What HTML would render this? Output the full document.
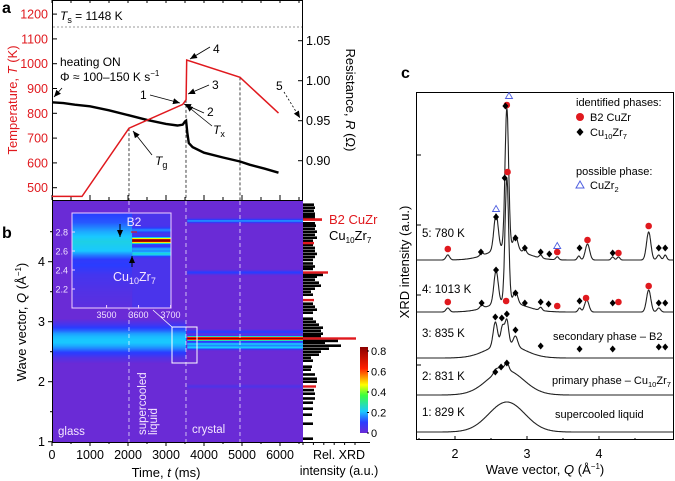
<!DOCTYPE html>
<html><head><meta charset="utf-8"><style>
html,body{margin:0;padding:0;background:#fff;}
svg{display:block;font-family:"Liberation Sans",sans-serif;}
</style></head><body>
<svg id="fig" width="675" height="481" viewBox="0 0 675 481" xmlns="http://www.w3.org/2000/svg">
<defs>
<marker id="ah" markerWidth="8" markerHeight="8" refX="7" refY="4" orient="auto" markerUnits="userSpaceOnUse"><path d="M0,1 L7,4 L0,7 z" fill="#000"/></marker>
<linearGradient id="cbar" x1="0" y1="1" x2="0" y2="0">
<stop offset="0" stop-color="#6a2bd6"/><stop offset="0.125" stop-color="#2a3cff"/><stop offset="0.25" stop-color="#19c8ff"/><stop offset="0.44" stop-color="#3cff3c"/><stop offset="0.56" stop-color="#ffff00"/><stop offset="0.75" stop-color="#ff2000"/><stop offset="1" stop-color="#8b0000"/>
</linearGradient>
</defs>
<g id="pa"></g>
<g id="pb"></g>
<g id="pc"></g>
</svg>
<script>
// ---------- Panel a data ----------
const tempT=[0,790,2026,3440,3530,3545,4947,5960];
const tempK=[465,465,740,836,855,1015,945,801];
const resT=[0,300,600,1000,1500,2000,2500,3000,3300,3440,3500,3530,3560,3600,3700,4000,4500,4947,5200,5600,5960];
const resR=[0.973,0.972,0.970,0.968,0.963,0.957,0.951,0.946,0.944,0.945,0.949,0.950,0.935,0.922,0.917,0.910,0.904,0.899,0.895,0.890,0.885];
const aTempTicks=[500,600,700,800,900,1000,1100,1200];
const aResTicks=["0.90","0.95","1.00","1.05"];
const dashTimes=[2026,3526,4947];
// ---------- Panel b data ----------
const timeTicks=[0,1000,2000,3000,4000,5000,6000];
const qTicks=[1,2,3,4];
const glassQ=[2.3,2.4,2.45,2.5,2.55,2.6,2.65,2.7,2.75,2.8,2.85,2.9,2.95,3.05];
const glassI=[0.0,0.04,0.08,0.11,0.15,0.18,0.2,0.2,0.19,0.17,0.13,0.1,0.06,0.0];
const crystQ=[1.92,2.57,2.63,2.72,2.83,3.82,4.68];
const crystI=[0.04,0.2,0.19,0.8,0.1,0.1,0.16];
const insetPreQ=[2.0,2.2,2.35,2.45,2.5,2.55,2.6,2.7,2.8,2.9,3.0];
const insetPreI=[0.02,0.04,0.06,0.1,0.09,0.14,0.2,0.22,0.18,0.12,0.1];
const insetPostQ=[2.57,2.62,2.71,2.82];
const insetPostI=[0.18,0.12,0.8,0.1];
const histQ=[1.05,1.3,1.45,1.55,1.65,1.72,1.8,1.86,2.0,2.05,2.12,2.2,2.25,2.35,2.4,2.45,2.5,2.55,2.6,2.65,2.68,2.76,2.8,2.85,2.9,2.95,3.0,3.05,3.15,3.2,3.25,3.3,3.45,3.5,3.55,3.6,3.65,3.7,3.75,3.78,3.88,3.92,3.97,4.03,4.08,4.13,4.18,4.23,4.28,4.35,4.4,4.45,4.5,4.55,4.6,4.64,4.72,4.76,4.8,4.85,4.9,4.95];
const histI=[10,10,9,10,10,12,12,11,14,14,12,8,9,10,8,16,18,26,38,22,35,18,20,18,20,16,13,10,10,14,12,10,10,8,12,18,16,12,14,20,10,12,10,10,12,14,12,12,10,10,14,12,14,12,13,12,12,12,12,11,12,11];
const histRedQ=[1.92,2.72,3.36,3.82,4.31,4.7];
const histRedI=[13,53,11,25,11,19];
const cbarTicks=["0","0.2","0.4","0.6","0.8"];
// ---------- Panel c data ----------
const cTicks=[2,3,4];
const cBase=[432,395,358,312,260];
const cLabels=["1: 829 K","2: 831 K","3: 835 K","4: 1013 K","5: 780 K"];
const c1Q=[2.72],c1H=[30],c1W=[0.25];
const c2Q=[2.7,2.57,2.64,2.72],c2H=[25,4,4,8],c2W=[0.25,0.03,0.03,0.025];
const c3Q=[2.7,2.56,2.66,2.72,2.84],c3H=[14,24,18,24,10],c3W=[0.25,0.03,0.025,0.025,0.03];
const c4Q=[2.72,1.9,2.37,2.57,2.72,2.84,3.19,3.73,3.83,4.69,4.83],c4H=[10,4,3,33,124,12,3,4,12,22,4],c4W=[0.25,0.025,0.025,0.03,0.025,0.03,0.02,0.02,0.03,0.03,0.025];
const c5Q=[2.72,1.9,2.37,2.57,2.72,2.84,2.97,3.19,3.42,3.72,3.84,4.19,4.27,4.69,4.83,4.92],c5H=[12,5,3,36,140,14,4,3,3,4,16,3,3,28,5,5],c5W=[0.25,0.025,0.02,0.03,0.025,0.03,0.02,0.02,0.02,0.02,0.03,0.02,0.02,0.03,0.025,0.02];
const m5RedQ=[1.9,2.72,3.42,3.84,4.27,4.69],m5RedH=[11,155,8,20,7,34];
const m5DiaQ=[2.36,2.57,2.7,2.84,2.97,3.19,3.31,3.73,4.19,4.83,4.92],m5DiaH=[8,43,154,22,12,8,6,12,7,12,12];
const m5TriQ=[2.57,2.75,3.42],m5TriH=[51,164,14];
const m4RedQ=[1.9,2.71,2.73,3.42,3.82,4.27,4.69],m4RedH=[10,11,140,6,14,10,26];
const m4DiaQ=[2.37,2.57,2.69,2.84,2.97,3.19,3.3,3.73,4.19,4.83,4.92],m4DiaH=[9,42,134,19,9,10,8,11,9,9,9];
const m3DiaQ=[2.56,2.65,2.72,2.84,3.19,3.73,4.19,4.83,4.92],m3DiaH=[41,40,44,28,12,9,9,11,11];
const m2DiaQ=[2.56,2.64,2.72],m2DiaH=[23,28,32];

const NS="http://www.w3.org/2000/svg";
function mk(parent,tag,attrs,text){const e=document.createElementNS(NS,tag);for(const k in attrs)e.setAttribute(k,attrs[k]);if(text!==undefined)e.textContent=text;parent.appendChild(e);return e;}
function interp(xs,ys,x){if(x<=xs[0])return ys[0];if(x>=xs[xs.length-1])return ys[ys.length-1];for(let i=1;i<xs.length;i++){if(x<=xs[i]){const f=(x-xs[i-1])/(xs[i]-xs[i-1]);return ys[i-1]+f*(ys[i]-ys[i-1]);}}}
const cmS=[0,0.1,0.2,0.35,0.45,0.6,0.8];
const cmC=[[106,43,214],[42,60,255],[25,200,255],[60,255,60],[255,255,0],[255,32,0],[139,0,0]];
function cmap(v){v=Math.max(0,Math.min(0.8,v));for(let i=1;i<cmS.length;i++){if(v<=cmS[i]){const f=(v-cmS[i-1])/(cmS[i]-cmS[i-1]);const c=cmC[i-1].map((a,j)=>Math.round(a+f*(cmC[i][j]-a)));return `rgb(${c[0]},${c[1]},${c[2]})`;}}return "rgb(139,0,0)";}

const xT=t=>52+t*0.038;
const yTemp=T=>187.7-(T-500)*0.248;
const yRes=R=>40.7+(1.05-R)*800;
const yQ=q=>441.7-(q-1)*60;
const inX=t=>72+(t-3392)*0.32;
const inY=q=>232-(q-2.8)*95;
const cX=q=>455+(q-2)*72;

// ===== Panel a =====
const pa=document.getElementById('pa');
let e;
e=mk(pa,'rect',{x:52.5,y:0.5,width:250,height:200,fill:'#fff',stroke:'#000','stroke-width':1});

e=mk(pa,'text',{x:2,y:13,'font-size':16,'font-weight':'bold'},'a');

e=mk(pa,'line',{x1:53,x2:302,y1:yTemp(1148),y2:yTemp(1148),stroke:'#999','stroke-dasharray':'2,2'});

for(const T of aTempTicks){const y=yTemp(T);
 e=mk(pa,'line',{x1:53,x2:57,y1:y,y2:y,stroke:'#000'});
 e=mk(pa,'text',{x:48,y:y+4.5,'font-size':12.5,fill:'#e0191e','text-anchor':'end'},String(T));
 }
for(const r of aResTicks){const y=yRes(+r);
 e=mk(pa,'line',{x1:298,x2:302,y1:y,y2:y,stroke:'#000'});
 e=mk(pa,'text',{x:306,y:y+4.5,'font-size':12.5,fill:'#000'},r);
 }
for(let t=0;t<=6500;t+=500){const x=xT(t);
 e=mk(pa,'line',{x1:x,x2:x,y1:200,y2:t%1000?197:195,stroke:'#000'});
 e=mk(pa,'line',{x1:x,x2:x,y1:0,y2:3,stroke:'#000'});}
e=mk(pa,'text',{transform:'translate(17,100) rotate(-90)','font-size':13,fill:'#e0191e','text-anchor':'middle'});
e.innerHTML='Temperature, <tspan font-style="italic">T</tspan> (K)';

e=mk(pa,'text',{transform:'translate(346,100) rotate(90)','font-size':13,fill:'#000','text-anchor':'middle'});
e.innerHTML='Resistance, <tspan font-style="italic">R</tspan> (Ω)';

for(const t of dashTimes){const x=xT(t);
 e=mk(pa,'line',{x1:x,x2:x,y1:yTemp(interp(tempT,tempK,t)),y2:200,stroke:'#444','stroke-dasharray':'3,2'});
 }
let d='';
for(let i=0;i<resT.length;i++){d+=(i?'L':'M')+xT(resT[i]).toFixed(1)+','+yRes(resR[i]).toFixed(1);}
e=mk(pa,'path',{d:d,fill:'none',stroke:'#000','stroke-width':2.4});

d='';
for(let i=0;i<tempT.length;i++){d+=(i?'L':'M')+xT(tempT[i]).toFixed(1)+','+yTemp(tempK[i]).toFixed(1);}
e=mk(pa,'path',{d:d,fill:'none',stroke:'#e0191e','stroke-width':1.5});

e=mk(pa,'text',{x:60,y:20,'font-size':12});e.innerHTML='<tspan font-style="italic">T</tspan><tspan font-size="9" dy="3">s</tspan><tspan dy="-3"> = 1148 K</tspan>';

e=mk(pa,'text',{x:60,y:66,'font-size':12},'heating ON');
e=mk(pa,'text',{x:60,y:81,'font-size':12});e.innerHTML='Φ ≈ 100–150 K s<tspan font-size="8" dy="-5">−1</tspan>';

const arrows=[[62,88,54,97,0],[210,47,190,59,0],[209,85,188,94,0],[150,95,180,103,0],[204,113,184,104,0],[212,126,186,105,0],[152,155,133,131,0],[284,92,300,118,1]];
for(const a of arrows){e=mk(pa,'line',{x1:a[0],y1:a[1],x2:a[2],y2:a[3],stroke:'#000','stroke-width':0.8,'marker-end':'url(#ah)','stroke-dasharray':a[4]?'2,2':'none'});
 }
const nums=[['1',140,99],['2',207,116],['3',212,89],['4',213,53],['5',276,90]];
for(const n of nums){e=mk(pa,'text',{x:n[1],y:n[2],'font-size':12},n[0]);}
e=mk(pa,'text',{x:155,y:165,'font-size':12});e.innerHTML='<tspan font-style="italic">T</tspan><tspan font-size="9" dy="3">g</tspan>';

e=mk(pa,'text',{x:213,y:134,'font-size':12});e.innerHTML='<tspan font-style="italic">T</tspan><tspan font-size="9" dy="3">x</tspan>';


// ===== Panel b =====
const pb=document.getElementById('pb');
e=mk(pb,'rect',{x:52,y:201,width:251,height:241,fill:cmap(0)});

function profile(qs,is,q){return interp(qs,is,q);}
function peaks(qs,is,q,s){let v=0;for(let i=0;i<qs.length;i++)v+=is[i]*Math.exp(-Math.pow(q-qs[i],2)/(2*s*s));return v;}
for(let y=201;y<442;y++){const q=1+(441.7-(y+0.5))/60;
 const g=profile(glassQ,glassI,q);
 if(g>0.005){e=mk(pb,'rect',{x:xT(0),y:y,width:xT(3526)-xT(0),height:1.05,fill:cmap(g)});}
 const c=peaks(crystQ,crystI,q,0.022);
 if(c>0.005){e=mk(pb,'rect',{x:xT(3560),y:y,width:303-xT(3560),height:1.05,fill:cmap(c)});}
}
for(const t of dashTimes){const x=xT(t);
 e=mk(pb,'line',{x1:x,x2:x,y1:201,y2:442,stroke:'#fff','stroke-dasharray':'4,3','stroke-width':0.8,opacity:0.85});
 }
e=mk(pb,'rect',{x:72,y:213,width:99,height:95,fill:cmap(0.02)});

for(let y=213;y<308;y++){const q=2.8-((y+0.5)-232)/95;
 const v=profile(insetPreQ,insetPreI,q);
 e=mk(pb,'rect',{x:72,y:y,width:inX(3580)-72,height:1.05,fill:cmap(v)});
 const w=0.05+peaks(insetPostQ,insetPostI,q,0.018);
 e=mk(pb,'rect',{x:inX(3580),y:y,width:171-inX(3580),height:1.05,fill:cmap(Math.min(w,0.8))});
}
e=mk(pb,'rect',{x:72,y:213,width:99,height:95,fill:'none',stroke:'#f0d0ff','stroke-width':1});

for(const q of [2.2,2.4,2.6,2.8]){const y=inY(q);
 e=mk(pb,'text',{x:68,y:y+3.5,'font-size':9,fill:'#f0e0ff','text-anchor':'end'},q.toFixed(1));
 e=mk(pb,'line',{x1:72,x2:75,y1:y,y2:y,stroke:'#f0d0ff'});}
for(const t of [3500,3600,3700]){const x=inX(t);
 e=mk(pb,'text',{x:x,y:318,'font-size':9,fill:'#f0e0ff','text-anchor':'middle'},String(t));
 e=mk(pb,'line',{x1:x,x2:x,y1:308,y2:305,stroke:'#f0d0ff'});}
e=mk(pb,'text',{x:134,y:226,'font-size':12,fill:'#f4e6ff','text-anchor':'middle'},'B2');
e=mk(pb,'line',{x1:120,y1:224,x2:120,y2:237,stroke:'#000','marker-end':'url(#ah)'});
e=mk(pb,'line',{x1:131,y1:232,x2:137,y2:232,stroke:'#e0191e','stroke-width':1.2});
e=mk(pb,'line',{x1:132,y1:267,x2:132,y2:256,stroke:'#000','marker-end':'url(#ah)'});
e=mk(pb,'text',{x:113,y:281,'font-size':12.5,fill:'#f4e6ff'});e.innerHTML='Cu<tspan font-size="9" dy="3">10</tspan><tspan dy="-3">Zr</tspan><tspan font-size="9" dy="3">7</tspan>';

e=mk(pb,'rect',{x:172,y:327,width:25,height:36,fill:'none',stroke:'#fff','stroke-width':1});
e=mk(pb,'line',{x1:153,y1:310,x2:172,y2:327,stroke:'#fff','stroke-width':0.8});
e=mk(pb,'text',{x:58,y:435,'font-size':11.5,fill:'#f4e6ff'},'glass');
e=mk(pb,'text',{x:192,y:433,'font-size':11.5,fill:'#f4e6ff'},'crystal');
e=mk(pb,'text',{transform:'translate(146,435) rotate(-90)','font-size':11.5,fill:'#f4e6ff'},'supercooled');
e=mk(pb,'text',{transform:'translate(157,435) rotate(-90)','font-size':11.5,fill:'#f4e6ff'},'liquid');
e=mk(pb,'line',{x1:52.5,x2:52.5,y1:201,y2:442,stroke:'#000'});
e=mk(pb,'line',{x1:52,x2:370,y1:442.5,y2:442.5,stroke:'#000'});
for(const t of timeTicks){const x=xT(t);
 e=mk(pb,'line',{x1:x,x2:x,y1:442,y2:446,stroke:'#000'});
 e=mk(pb,'text',{x:x,y:459,'font-size':12.5,'text-anchor':'middle'},String(t));}
for(let t=500;t<=6500;t+=1000){e=mk(pb,'line',{x1:xT(t),x2:xT(t),y1:442,y2:444,stroke:'#000'});}
for(const q of qTicks){const y=yQ(q);
 e=mk(pb,'line',{x1:48,x2:52,y1:y,y2:y,stroke:'#000'});
 e=mk(pb,'text',{x:45,y:y+4.5,'font-size':12.5,'text-anchor':'end'},String(q));}
for(const q of [1.5,2.5,3.5,4.5]){e=mk(pb,'line',{x1:50,x2:52,y1:yQ(q),y2:yQ(q),stroke:'#000'});}
e=mk(pb,'text',{x:166,y:477,'font-size':13,'text-anchor':'middle'});e.innerHTML='Time, <tspan font-style="italic">t</tspan> (ms)';

e=mk(pb,'text',{transform:'translate(26,322) rotate(-90)','font-size':13,'text-anchor':'middle'});e.innerHTML='Wave vector, <tspan font-style="italic">Q</tspan> (Å<tspan font-size="8" dy="-5">−1</tspan><tspan dy="5">)</tspan>';

e=mk(pb,'text',{x:2,y:238,'font-size':16,'font-weight':'bold'},'b');
for(let i=0;i<histQ.length;i++){e=mk(pb,'rect',{x:303,y:yQ(histQ[i])-1.3,width:histI[i],height:2.6,fill:'#000'});}
for(let i=0;i<histRedQ.length;i++){e=mk(pb,'rect',{x:303,y:yQ(histRedQ[i])-1.2,width:histRedI[i],height:2.4,fill:'#e0191e'});}
for(let x=303;x<=365;x+=10.4){e=mk(pb,'line',{x1:x,x2:x,y1:442,y2:445,stroke:'#000'});}
e=mk(pb,'line',{x1:303,x2:322,y1:219,y2:219,stroke:'#e0191e','stroke-width':1.5});
e=mk(pb,'text',{x:329,y:224,'font-size':13,fill:'#e0191e'},'B2 CuZr');
e=mk(pb,'text',{x:329,y:240,'font-size':13});e.innerHTML='Cu<tspan font-size="8" dy="3">10</tspan><tspan dy="-3">Zr</tspan><tspan font-size="8" dy="3">7</tspan>';

e=mk(pb,'text',{x:339,y:459,'font-size':12.5,'text-anchor':'middle'},'Rel. XRD');
e=mk(pb,'text',{x:339,y:475,'font-size':12.5,'text-anchor':'middle'},'intensity (a.u.)');
e=mk(pb,'rect',{x:360,y:347,width:8,height:86,fill:'url(#cbar)'});
for(let i=0;i<cbarTicks.length;i++){const y=433-i*20.5;
 e=mk(pb,'text',{x:371,y:y+4,'font-size':11},cbarTicks[i]);
 e=mk(pb,'line',{x1:367,x2:369,y1:y,y2:y,stroke:'#000'});}

// ===== Panel c =====
const pc=document.getElementById('pc');
e=mk(pc,'text',{x:401,y:78,'font-size':16,'font-weight':'bold'},'c');
e=mk(pc,'rect',{x:416.5,y:92.5,width:257,height:347,fill:'none',stroke:'#000'});
for(const q of cTicks){const x=cX(q);
 e=mk(pc,'line',{x1:x,x2:x,y1:440,y2:436,stroke:'#000'});
 e=mk(pc,'text',{x:x,y:458,'font-size':12.5,'text-anchor':'middle'},String(q));}
for(const q of [1.5,2.5,3.5,4.5]){e=mk(pc,'line',{x1:cX(q),x2:cX(q),y1:440,y2:438,stroke:'#000'});}
for(const y of [155,225,295,365]){e=mk(pc,'line',{x1:417,x2:421,y1:y,y2:y,stroke:'#000'});}
e=mk(pc,'text',{x:545,y:474,'font-size':13,'text-anchor':'middle'});e.innerHTML='Wave vector, <tspan font-style="italic">Q</tspan> (Å<tspan font-size="8" dy="-5">−1</tspan><tspan dy="5">)</tspan>';

e=mk(pc,'text',{transform:'translate(409,262) rotate(-90)','font-size':13,'text-anchor':'middle'},'XRD intensity (a.u.)');
const traces=[[c1Q,c1H,c1W],[c2Q,c2H,c2W],[c3Q,c3H,c3W],[c4Q,c4H,c4W],[c5Q,c5H,c5W]];
for(let k=0;k<traces.length;k++){const [Q,H,W]=traces[k];let dd='';
 for(let q=1.47;q<=5.03;q+=0.005){let v=0;for(let i=0;i<Q.length;i++)v+=H[i]*Math.exp(-Math.pow(q-Q[i],2)/(2*W[i]*W[i]));
  dd+=(dd?'L':'M')+cX(q).toFixed(1)+','+(cBase[k]-v).toFixed(1);}
 e=mk(pc,'path',{d:dd,fill:'none',stroke:'#222','stroke-width':1.1});
 e=mk(pc,'text',{x:422,y:[416,380,337,293,237][k],'font-size':11.5},cLabels[k]);}
function dots(qs,hs,base,kind){for(let i=0;i<qs.length;i++){const x=cX(qs[i]),y=base-hs[i];
 if(kind==='red'){e=mk(pc,'circle',{cx:x,cy:y,r:3.3,fill:'#e0191e'});}
 else if(kind==='dia'){e=mk(pc,'path',{d:`M${x},${y-3.5}L${x+3},${y}L${x},${y+3.5}L${x-3},${y}z`,fill:'#000'});}
 else{e=mk(pc,'path',{d:`M${x},${y-3.5}L${x+3.5},${y+2.5}L${x-3.5},${y+2.5}z`,fill:'none',stroke:'#5060e0','stroke-width':0.9});}
 }}
dots(m5RedQ,m5RedH,cBase[4],'red');dots(m5DiaQ,m5DiaH,cBase[4],'dia');dots(m5TriQ,m5TriH,cBase[4],'tri');
dots(m4RedQ,m4RedH,cBase[3],'red');dots(m4DiaQ,m4DiaH,cBase[3],'dia');
dots(m3DiaQ,m3DiaH,cBase[2],'dia');dots(m2DiaQ,m2DiaH,cBase[1],'dia');
e=mk(pc,'text',{x:553,y:340,'font-size':11},'secondary phase – B2');
e=mk(pc,'text',{x:552,y:384,'font-size':11});e.innerHTML='primary phase – Cu<tspan font-size="7.5" dy="3">10</tspan><tspan dy="-3">Zr</tspan><tspan font-size="7.5" dy="3">7</tspan>';

e=mk(pc,'text',{x:555,y:418,'font-size':11},'supercooled liquid');
e=mk(pc,'text',{x:576,y:106,'font-size':11},'identified phases:');
e=mk(pc,'circle',{cx:580,cy:117,r:4,fill:'#e0191e'});
e=mk(pc,'text',{x:590,y:121,'font-size':11},'B2 CuZr');
e=mk(pc,'path',{d:'M580,128L583.5,132L580,136L576.5,132z',fill:'#000'});
e=mk(pc,'text',{x:590,y:136,'font-size':11});e.innerHTML='Cu<tspan font-size="7.5" dy="3">10</tspan><tspan dy="-3">Zr</tspan><tspan font-size="7.5" dy="3">7</tspan>';

e=mk(pc,'text',{x:576,y:175,'font-size':11},'possible phase:');
e=mk(pc,'path',{d:'M580,181L584,188L576,188z',fill:'none',stroke:'#5060e0'});
e=mk(pc,'text',{x:590,y:189,'font-size':11});e.innerHTML='CuZr<tspan font-size="7.5" dy="3">2</tspan>';

</script>
</body></html>
